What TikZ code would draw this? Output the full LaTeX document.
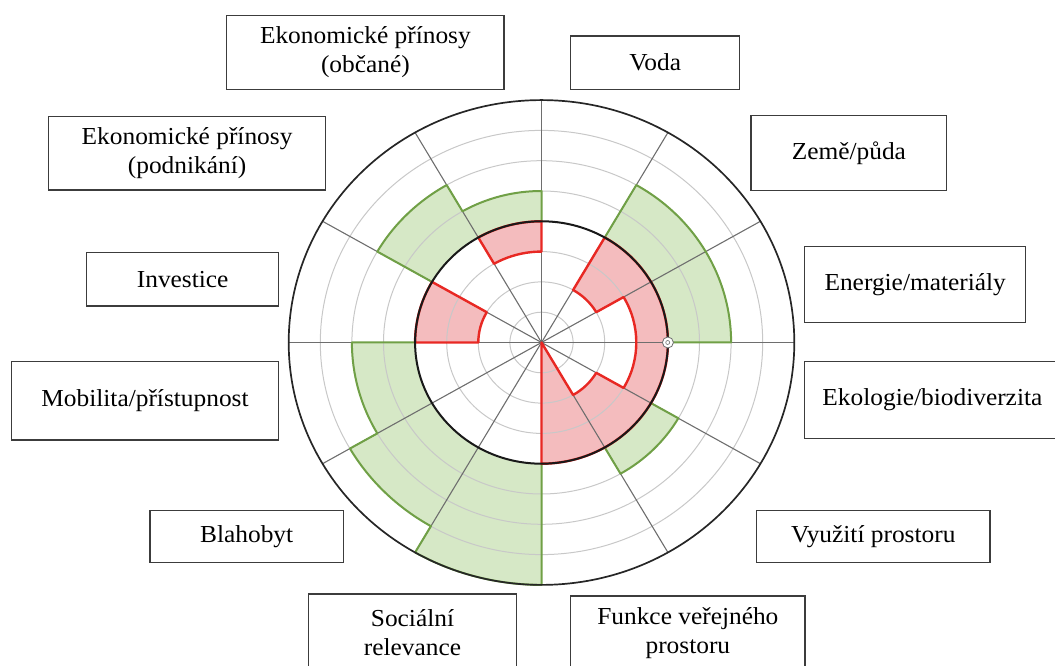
\documentclass[tikz,border=0pt]{standalone}
\usepackage{fontspec}
\setmainfont[FakeStretch=1.04]{Liberation Serif}
\definecolor{ringgray}{RGB}{200,200,200}
\definecolor{spokegray}{RGB}{110,110,110}
\definecolor{boxgray}{RGB}{60,60,60}
\definecolor{greenfill}{RGB}{214,232,198}
\definecolor{greenline}{RGB}{112,160,70}
\definecolor{redfill}{RGB}{244,188,190}
\definecolor{redline}{RGB}{232,40,35}

\begin{document}
\begin{tikzpicture}[x=1pt, y=1pt,
    ring/.style={draw=ringgray, line width=1pt},
    spoke/.style={draw=spokegray, line width=1.1pt},
    greenbar/.style={fill=greenfill},
    greenedge/.style={draw=greenline, line width=2pt, line join=round},
    redbar/.style={fill=redfill},
    rededge/.style={draw=redline, line width=2.4pt, line join=round},
    dial/.style={circle, draw=spokegray, fill=white, line width=0.8pt, minimum size=11pt, inner sep=0pt},
    dialhub/.style={circle, draw=spokegray, line width=0.6pt, minimum size=4pt, inner sep=0pt},
    labelbox/.style={draw=boxgray, line width=1.2pt, fill=white, align=center, inner sep=0pt,
        font=\fontsize{24.4}{29}\selectfont}]%
    \useasboundingbox (0,0) rectangle (1055,666);

    \begin{scope}[shift={(541.5pt,323.5pt)}, xscale=31.6, yscale=30.3]
        \coordinate (c) at (0,0);
        \foreach \a/\b/\r in {60/30/6, 30/0/6, -30/-60/5, -90/-120/8, -120/-150/7, -150/-180/6, 150/120/6, 120/90/5}
            \fill[greenbar] (\a:4) -- (\a:\r) arc[start angle=\a, end angle=\b, radius=\r] -- (\b:4) arc[start angle=\b, end angle=\a, radius=4] -- cycle;
        \foreach \a/\b/\r in {60/30/2, 30/0/3, 0/-30/3, -30/-60/2, -60/-90/0.01, 180/150/2, 120/90/3}
            \fill[redbar] (\a:\r) -- (\a:4) arc[start angle=\a, end angle=\b, radius=4] -- (\b:\r) arc[start angle=\b, end angle=\a, radius=\r] -- cycle;

        \foreach \k in {1,...,7}
            \draw[ring] (c) circle[radius=\k];
        \foreach \a in {0,30,...,330}
            \draw[spoke] (c) -- (\a:8);

        \draw[greenedge] (60:4) -- (60:6) arc[start angle=60, end angle=0, radius=6] -- (0:4);
        \draw[greenedge] (-30:4) -- (-30:5) arc[start angle=-30, end angle=-60, radius=5] -- (-60:4);
        \draw[greenedge] (-90:4) -- (-90:8) arc[start angle=-90, end angle=-120, radius=8] -- (-120:7)
            arc[start angle=-120, end angle=-150, radius=7] -- (-150:6)
            arc[start angle=-150, end angle=-180, radius=6] -- (180:4);
        \draw[greenedge] (150:4) -- (150:6) arc[start angle=150, end angle=120, radius=6] -- (120:5)
            arc[start angle=120, end angle=90, radius=5] -- (90:4);

        \draw[rededge] (60:2) -- (60:4) arc[start angle=60, end angle=-90, radius=4] -- (c) -- (-60:2)
            arc[start angle=-60, end angle=-30, radius=2] -- (-30:3)
            arc[start angle=-30, end angle=30, radius=3] -- (30:2)
            arc[start angle=30, end angle=60, radius=2] -- cycle;
        \draw[rededge] (180:2) -- (180:4) arc[start angle=180, end angle=150, radius=4] -- (150:2)
            arc[start angle=150, end angle=180, radius=2] -- cycle;
        \draw[rededge] (120:3) -- (120:4) arc[start angle=120, end angle=90, radius=4] -- (90:3)
            arc[start angle=90, end angle=120, radius=3] -- cycle;

        \draw[black!90, line width=2pt] (c) circle[radius=4];
        \draw[black!85, line width=1.7pt] (c) circle[radius=8];
        \node[dial] (dial) at (0:4) {};
        \node[dialhub] (dialhub) at (dial.center) {};
    \end{scope}

    \node[labelbox, minimum width=277.2, minimum height=73.6] (obcane) at (365.4, 613.5) {Ekonomické přínosy\\(občané)};
    \node[labelbox, minimum width=168.9, minimum height=53.3] (voda) at (655.2, 603.35) {Voda};
    \node[labelbox, minimum width=277.2, minimum height=73.3] (podnikani) at (187.1, 512.65) {Ekonomické přínosy\\(podnikání)};
    \node[labelbox, minimum width=195.8, minimum height=75] (zeme) at (848.9, 512.8) {Země/půda};
    \node[labelbox, minimum width=191.8, minimum height=53.3] (investice) at (182.7, 386.65) {Investice};
    \node[labelbox, minimum width=220.8, minimum height=76] (energie) at (915.2, 381.3) {Energie/materiály};
    \node[labelbox, minimum width=267.2, minimum height=78.3] (mobilita) at (145, 265.15) {Mobilita/přístupnost};
    \node[labelbox, minimum width=255.2, minimum height=76.6] (ekologie) at (932.4, 266) {Ekologie/biodiverzita};
    \node[labelbox, minimum width=193.3, minimum height=52] (blahobyt) at (246.65, 129.3) {Blahobyt};
    \node[labelbox, minimum width=233.3, minimum height=52] (vyuziti) at (873.35, 129.3) {Využití prostoru};
    \node[labelbox, minimum width=208.4, minimum height=78] (socialni) at (412.5, 33) {Sociální\\relevance};
    \node[labelbox, minimum width=234.3, minimum height=74] (funkce) at (687.85, 33) {Funkce veřejného\\prostoru};
\end{tikzpicture}
\end{document}
